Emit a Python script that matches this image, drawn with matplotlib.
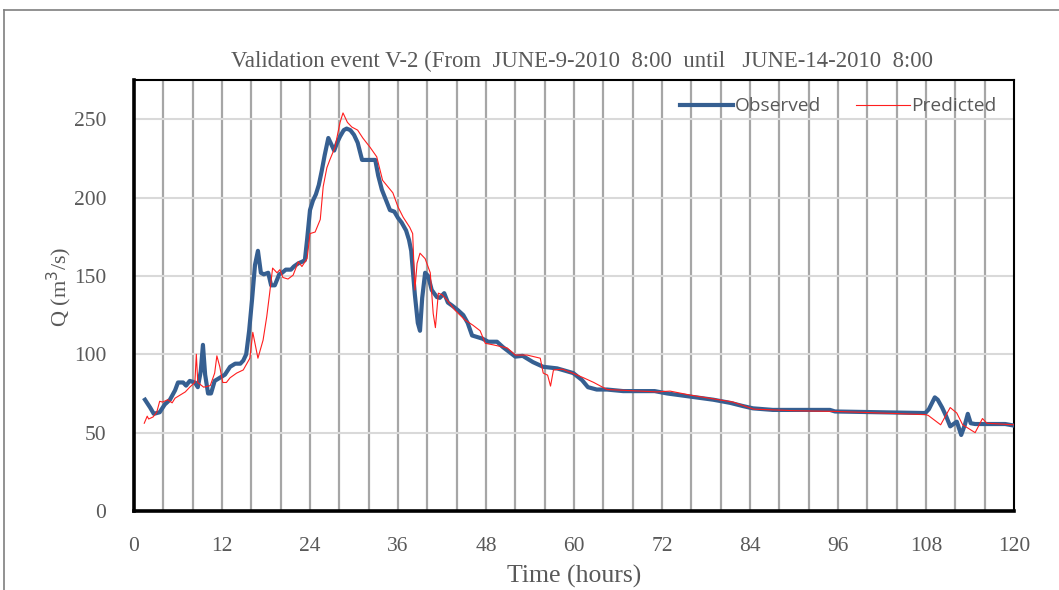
import matplotlib.pyplot as plt
from matplotlib.lines import Line2D

# observed discharge (time in hours, Q in m3/s)
obs_t = [1.5, 2.2, 2.7, 3.5, 4.2, 4.9, 5.6, 6.0, 6.7, 7.1, 7.6, 8.3, 8.7, 9.1, 9.4, 9.7,
         10.1, 10.5, 11.0, 11.7, 12.4, 13.1, 13.8, 14.5, 14.9, 15.3, 15.7, 16.1, 16.5, 16.9,
         17.3, 17.7, 18.3, 18.7, 19.2, 19.8, 20.2, 20.7, 21.4, 21.8, 22.4, 22.9, 23.3, 23.6,
         24.0, 24.4, 24.8, 25.2, 25.6, 26.0, 26.5, 26.9, 27.3, 27.7, 28.1, 28.6, 29.0, 29.5,
         30.0, 30.5, 31.1, 32.2, 32.9, 33.3, 33.8, 34.4, 34.9, 35.5, 36.0, 36.5, 37.1, 37.5,
         37.8, 38.0, 38.3, 38.7, 39.0, 39.3, 39.7, 40.1, 40.6, 41.3, 41.7, 42.3, 42.8, 43.4,
         44.2, 44.9, 45.5, 46.1, 46.8, 47.5, 48.3, 49.5, 50.3, 52.0, 53.0, 54.4, 55.8, 57.7,
         59.9, 61.1, 61.9, 63.1, 64.5, 66.7, 69.0, 71.0, 72.7, 75.8, 79.0, 81.3, 83.0, 84.4,
         87.1, 89.5, 94.9, 95.6, 101.7, 107.9, 108.4, 109.2, 109.6, 110.2, 110.7, 111.3, 112.2,
         112.8, 113.3, 113.7, 114.1, 114.7, 118.8, 120.0]
obs_q = [71, 66, 62, 63, 68, 71, 77, 82, 82, 80, 83, 82, 79, 89, 106, 87,
         75, 75, 83, 85, 87, 92, 94, 94, 96, 100, 115, 135, 157, 166,
         152, 151, 152, 144, 144, 151, 152, 154, 154, 156, 158, 159, 160, 173,
         192, 198, 202, 208, 217, 227, 238, 234, 230, 235, 239, 243, 244, 243,
         240, 235, 224, 224, 224, 214, 205, 198, 192, 191, 187, 184, 179, 173,
         166, 155, 138, 120, 115, 136, 152, 150, 141, 136.5, 136, 139, 133, 131,
         128, 125, 120, 112, 111, 110, 108, 108, 104.6, 98.5, 99, 95, 92, 91,
         88, 83.5, 79, 77.5, 77.5, 76.5, 76.5, 76.5, 75, 73, 71, 69, 67, 65.5,
         64.5, 64.5, 64.5, 63.5, 63, 62.5, 65, 72.5, 71, 66, 61, 54, 57,
         48.5, 55, 62, 56, 55.5, 55.5, 54.5]

# predicted discharge
pred_t = [1.4, 1.8, 2.0, 2.6, 3.1, 3.5, 3.9, 4.6, 5.2, 5.6, 6.3, 7.0, 7.6, 8.3, 8.5, 8.7,
          9.5, 10.4, 11.0, 11.3, 11.7, 12.1, 12.6, 13.1, 14.0, 14.9, 15.5, 15.8, 16.2, 16.9,
          17.6, 18.1, 18.5, 18.9, 19.5, 19.9, 20.3, 21.0, 21.7, 22.4, 22.9, 23.6, 24.0, 24.7,
          25.4, 25.8, 26.3, 26.7, 27.4, 28.1, 28.5, 29.1, 29.7, 30.5, 31.2, 32.2, 33.1, 33.9,
          35.3, 36.0, 36.7, 37.6, 38.0, 38.3, 38.6, 39.0, 39.7, 40.4, 40.8, 41.1, 41.5, 42.0,
          42.7, 43.8, 45.1, 46.2, 47.2, 47.9, 49.0, 50.9, 52.0, 53.6, 55.4, 55.8, 56.4, 56.8,
          57.2, 58.4, 59.8, 61.3, 62.7, 64.5, 71.3, 73.1, 75.8, 81.7, 84.5, 90.0, 96.0, 102.0,
          107.9, 108.3, 110.0, 111.3, 112.2, 113.0, 114.7, 115.7, 116.3, 120.0]
pred_q = [56, 60.5, 58.7, 60, 63, 70, 69.5, 71, 69, 72, 74, 76, 79, 82, 100, 82,
          79, 80, 88, 99, 92, 82, 82, 85, 88, 90, 95, 97.5, 114, 97.5,
          109, 124, 139, 155, 152, 154, 149, 148, 150.5, 159, 156, 161, 177, 178,
          186, 207, 219, 224, 232, 248, 254, 248, 245, 243, 238, 232, 226, 211,
          203, 194, 187.5, 181, 177, 141, 158, 164.5, 161, 152, 126, 117, 139, 138,
          134.5, 128, 122, 118.6, 115, 107, 106, 104, 99.5, 99.5, 97.5, 88, 86.7, 79.7,
          90, 90.5, 88, 85, 82, 77.5, 76, 76.5, 74, 69.5, 65, 64, 63.5, 62.5,
          61.5, 61, 55, 66, 62.5, 55, 50, 59, 56, 55]

x_ticks = list(range(0, 121, 12))
y_ticks = [0, 50, 100, 150, 200, 250]

serif = 'Liberation Serif'
grey = '#595959'

fig = plt.figure(figsize=(10.59, 5.9), dpi=100)
ax = fig.add_axes([134 / 1059, 79 / 590, 880 / 1059, 431 / 590])

# vertical grid every 4 h, horizontal every 50
for xv in range(4, 120, 4):
    ax.axvline(xv, color='#a6a6a6', lw=1.6, zorder=1)
for yv in y_ticks[1:]:
    ax.axhline(yv, color='#d9d9d9', lw=1.5, zorder=1)

ax.plot(obs_t, obs_q, color='#365F91', lw=3.0, zorder=3, label='Observed')
ax.plot(pred_t, pred_q, color='#FF1E1E', lw=0.8, zorder=4, label='Predicted')

ax.set_xlim(0, 120)
ax.set_ylim(0, 275)
ax.set_xticks(x_ticks)
ax.set_yticks(y_ticks)
ax.tick_params(axis='both', length=0, labelsize=15.5, labelcolor=grey)
for lab in ax.get_xticklabels() + ax.get_yticklabels():
    lab.set_family(serif)
ax.tick_params(axis='x', pad=19)
ax.tick_params(axis='y', pad=20)

for side in ['left', 'bottom']:
    ax.spines[side].set_linewidth(2.6)
for side in ['top', 'right']:
    ax.spines[side].set_linewidth(1.5)

ax.set_xlabel('Time (hours)', family=serif, fontsize=18.5, color=grey, labelpad=6)
ax.set_ylabel('Q (m$^3$/s)', family=serif, fontsize=16, color=grey)
ax.yaxis.set_label_coords(-0.068, 0.52)

fig.text(0.55, 0.896, 'Validation event V-2 (From  JUNE-9-2010  8:00  until   JUNE-14-2010  8:00',
         family=serif, fontsize=16.4, color=grey, ha='center', va='center')

leg = ax.legend(loc='upper right', ncol=2, frameon=False,
                prop={'family': 'Open Sans', 'size': 13.8},
                handlelength=2.8, columnspacing=1.8, handletextpad=0.1,
                bbox_to_anchor=(1.0, 1.0))
for t in leg.get_texts():
    t.set_color(grey)

# outer chart border
fig.add_artist(Line2D([4 / 1059, 4 / 1059], [0, 1 - 10 / 590], color='#7f7f7f', lw=1.2))
fig.add_artist(Line2D([4 / 1059, 1], [1 - 10 / 590, 1 - 10 / 590], color='#7f7f7f', lw=1.2))

fig.savefig('out.png', dpi=100)
